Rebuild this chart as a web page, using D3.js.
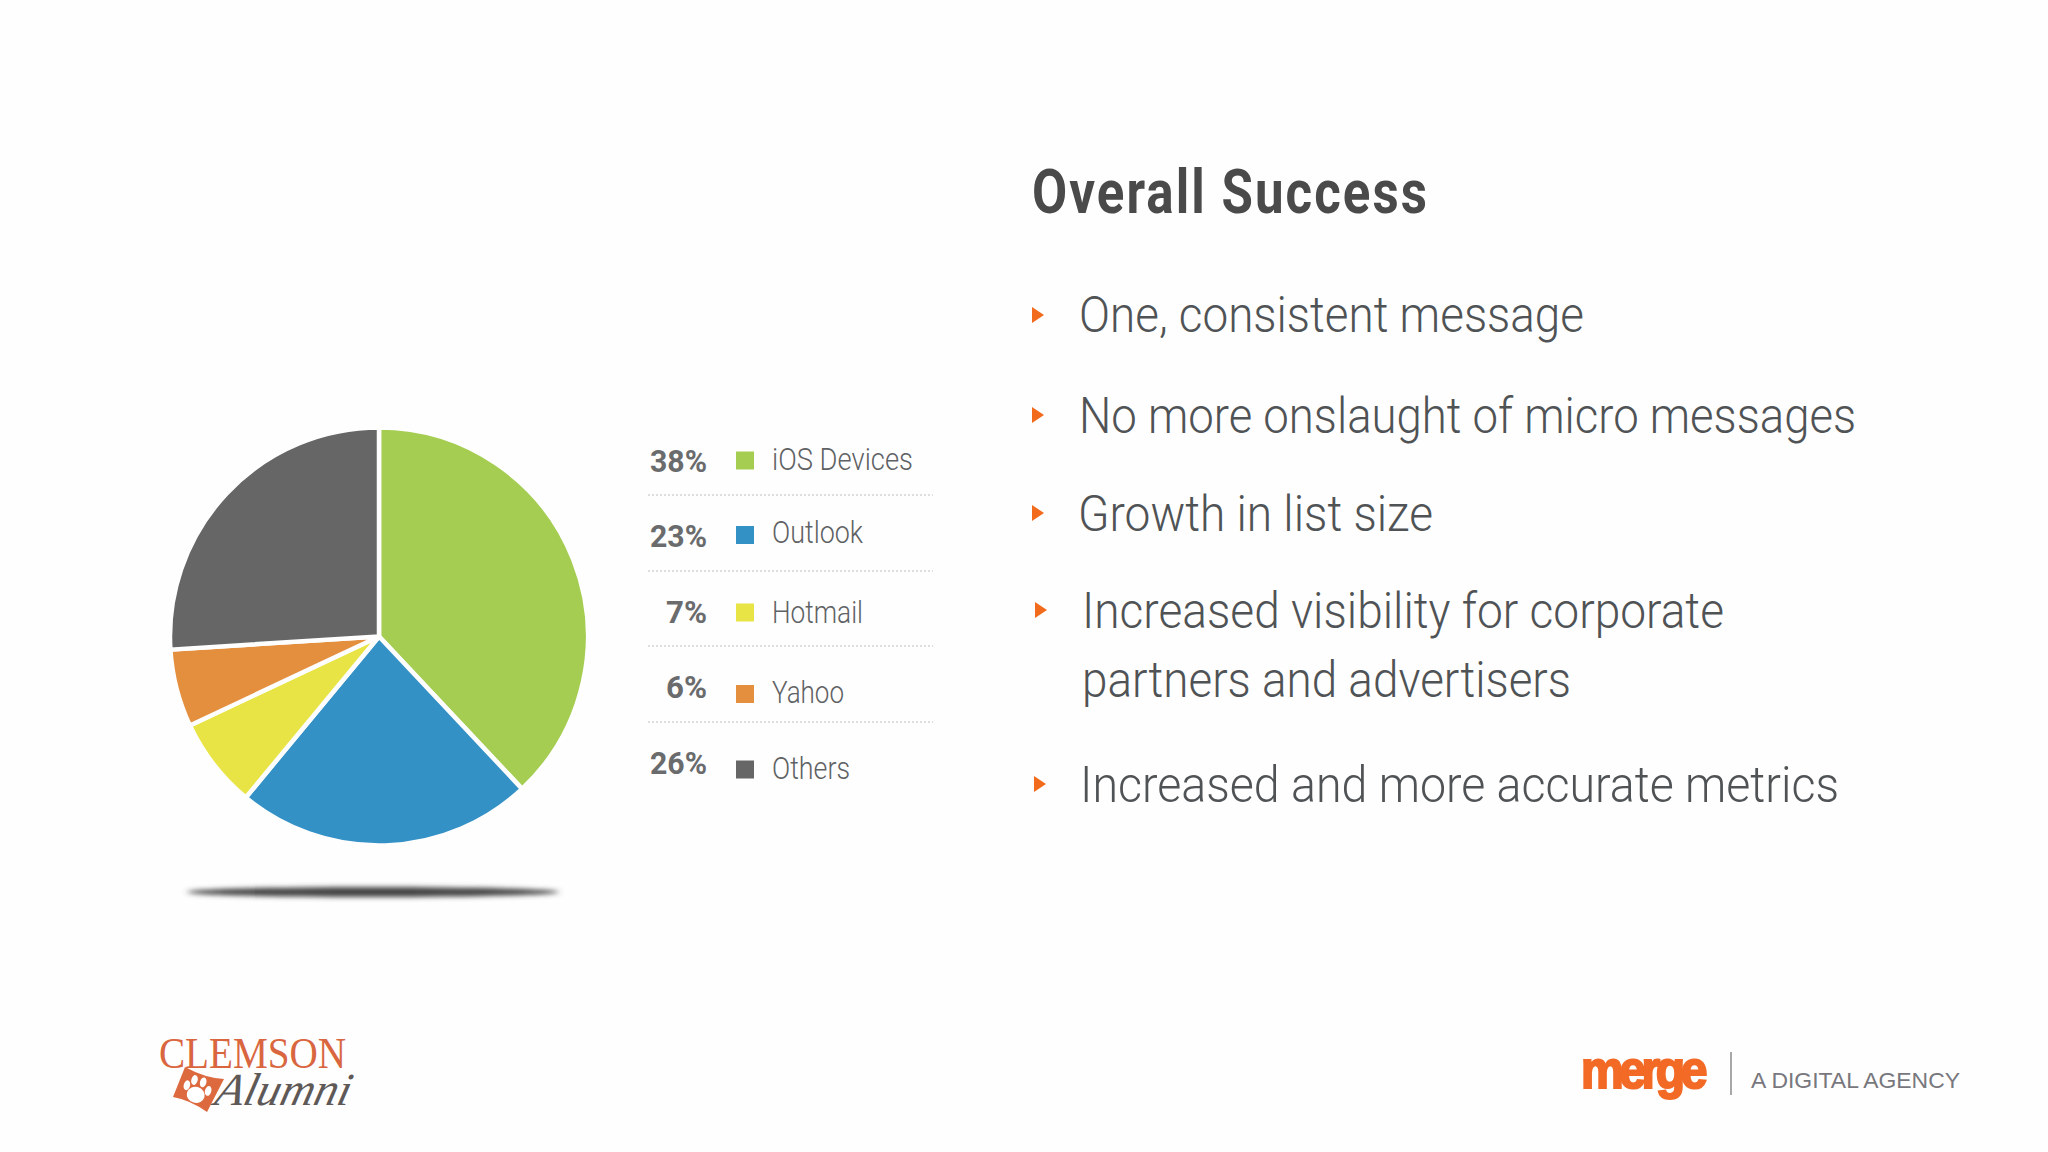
<!DOCTYPE html>
<html><head><meta charset="utf-8">
<script src="https://cdn.jsdelivr.net/npm/d3@7"></script>
<style>html,body{margin:0;padding:0;background:#fefefe;overflow:hidden}svg{display:block}</style>
</head><body><svg id="c" width="2048" height="1152"></svg>
<script>
const categories = ["iOS Devices","Outlook","Hotmail","Yahoo","Others"];
const shares = [38,23,7,6,26];
const sliceColors = ["#a5cd52","#3391c6","#e8e445","#e48f3e","#666667"];
const heading = "Overall Success";
const bullets = ["One, consistent message","No more onslaught of micro messages","Growth in list size","Increased visibility for corporate","Increased and more accurate metrics"];
const bulletContinuation = "partners and advertisers";

const svg = d3.select("#c");
const narrow = "'Roboto',sans-serif";
const light = "'Roboto','Liberation Sans',sans-serif";
function txt(s,x,y,len,size,fam,weight,fill,anchor){
  return svg.append("text").attr("x",x).attr("y",y).attr("font-size",size).attr("font-family",fam)
    .attr("font-weight",weight).attr("fill",fill).attr("text-anchor",anchor||"start")
    .attr("textLength",len).attr("lengthAdjust","spacingAndGlyphs").text(s);
}
const defs = svg.append("defs");
defs.append("filter").attr("id","soft").attr("x","-10%").attr("y","-300%").attr("width","120%").attr("height","700%")
  .append("feGaussianBlur").attr("stdDeviation","3 2.6");

// shadow
svg.append("ellipse").attr("cx",373).attr("cy",892).attr("rx",186).attr("ry",5).attr("fill","#444").attr("filter","url(#soft)");

// pie
const pie = d3.pie().sort(null).value(d=>d)(shares);
const arc = d3.arc().innerRadius(0).outerRadius(209);
svg.append("g").attr("transform","translate(379,636.5)").selectAll("path").data(pie).join("path")
  .attr("d",arc).attr("fill",(d,i)=>sliceColors[i]).attr("stroke","#fefefe").attr("stroke-width",4.5).attr("stroke-linejoin","miter");

// legend
const row = d3.scalePoint().domain(categories).range([471.5,773.5]);
const labelNudge = [-2,-4,0,5,5];
const swatchNudge = [-11,-12,-10,-4,-4];
const pctLen = [57,57,41,41,57];
const labelLen = [141,91,91,72,78];
categories.forEach((c,i)=>{
  const y = row(c);
  txt(shares[i]+"%",707,y,pctLen[i],31,narrow,700,"#6a6b6d","end");
  svg.append("rect").attr("x",736).attr("y",y+swatchNudge[i]-9).attr("width",18).attr("height",18).attr("fill",sliceColors[i]);
  txt(c,772,y+labelNudge[i],labelLen[i],31,narrow,300,"#5f6264");
});
[495,571,646,722].forEach(y=>svg.append("line").attr("x1",648).attr("x2",933).attr("y1",y).attr("y2",y)
  .attr("stroke","#d4d4d4").attr("stroke-width",1.5).attr("stroke-dasharray","2 2"));

// heading
txt(heading,1032,213,397,62,narrow,700,"#4a4a4a").attr("letter-spacing",2.5);

// bullets
const blines = [
 {t:bullets[0],x:1079,y:332,len:505,tx:1032,ty:315},
 {t:bullets[1],x:1079,y:433,len:777,tx:1032,ty:415},
 {t:bullets[2],x:1078,y:531,len:355,tx:1032,ty:513},
 {t:bullets[3],x:1082,y:628,len:642,tx:1035,ty:610},
 {t:bullets[4],x:1080,y:802,len:759,tx:1034,ty:784}
];
blines.forEach(b=>{
  txt(b.t,b.x,b.y,b.len,50,light,300,"#505355");
  svg.append("path").attr("d",`M${b.tx},${b.ty-8}L${b.tx+12},${b.ty}L${b.tx},${b.ty+8}Z`).attr("fill","#f26a1b");
});
txt(bulletContinuation,1082,697,489,50,light,300,"#505355");

// Clemson logo
txt("CLEMSON",159,1068,187,45,"'Liberation Serif',serif",400,"#d9663f");
svg.append("path").attr("d","M185,1067 Q205,1078 224,1079 L207,1112 Q190,1100 173,1097 Z").attr("fill","#dd6a3f");
const paw = svg.append("g").attr("transform","translate(197,1090) rotate(15)").attr("fill","#fff");
paw.append("ellipse").attr("rx",9).attr("ry",8).attr("cy",5);
[[-11,-2,3.2,5],[-5,-9,3.2,5],[4,-9,3.2,5],[11,-2,3.2,5]].forEach(p=>paw.append("ellipse").attr("cx",p[0]).attr("cy",p[1]).attr("rx",p[2]).attr("ry",p[3]));
svg.append("text").attr("transform","translate(213,1105) skewX(-14)").attr("font-family","'Liberation Serif',serif").attr("font-style","italic")
  .attr("font-size",46).attr("fill","#5e5957").attr("textLength",135).attr("lengthAdjust","spacingAndGlyphs").text("Alumni");

// Merge logo
txt("merge",1581,1088,122,54,"'Liberation Sans',sans-serif",700,"#f26a25").attr("letter-spacing",-5).attr("stroke","#f26a25").attr("stroke-width",2.2);
svg.append("line").attr("x1",1731).attr("x2",1731).attr("y1",1052).attr("y2",1095).attr("stroke","#8a8a8a").attr("stroke-width",1.5);
txt("A DIGITAL AGENCY",1751,1088,209,22,"'Liberation Sans',sans-serif",400,"#77777d");
</script></body></html>
